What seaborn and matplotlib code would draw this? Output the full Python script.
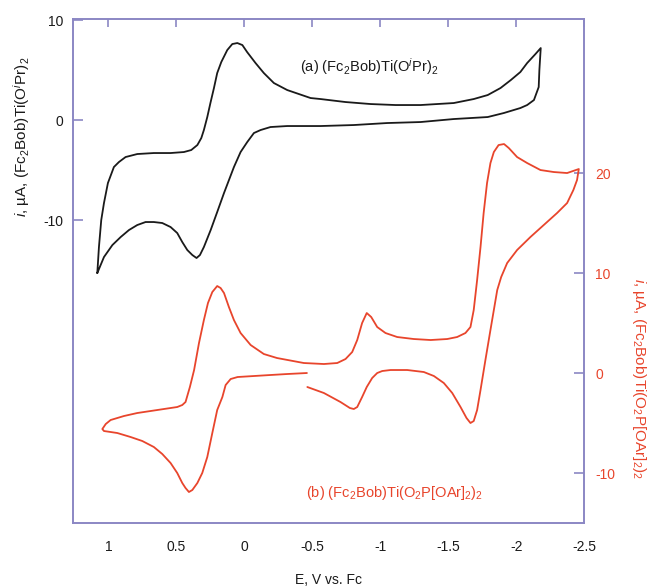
import pandas as pd
import seaborn as sns
import matplotlib.pyplot as plt

# (a) (Fc2Bob)Ti(OiPr)2 - left axis, closed loop
volt_a = [1.082, 1.070, 1.053, 1.033, 1.004, 0.96, 0.923, 0.874, 0.788, 0.666,
          0.543, 0.445, 0.391, 0.346, 0.317, 0.298, 0.273, 0.25, 0.224, 0.2,
          0.17, 0.126, 0.089, 0.052, 0.015, -0.02, -0.082, -0.143, -0.217,
          -0.315, -0.487, -0.56, -0.744, -0.928, -1.112, -1.296, -1.54, -1.687,
          -1.79, -1.884, -1.96, -2.03, -2.08, -2.141, -2.18,
          -2.17, -2.165, -2.13, -2.08, -2.03, -1.908, -1.79, -1.54, -1.296,
          -1.05, -0.805, -0.56, -0.315, -0.192, -0.119, -0.07, -0.021, 0.028,
          0.077, 0.15, 0.2, 0.248, 0.298, 0.327, 0.352, 0.383, 0.42, 0.457,
          0.494, 0.543, 0.604, 0.666, 0.727, 0.788, 0.849, 0.91, 0.971, 1.033,
          1.082]
curr_a = [-15.3, -12.7, -10.0, -8.3, -6.3, -4.7, -4.2, -3.7, -3.4, -3.3,
          -3.3, -3.2, -3.0, -2.5, -1.8, -1.0, 0.3, 1.7, 3.2, 4.7,
          5.8, 7.0, 7.6, 7.7, 7.5, 6.8, 5.7, 4.7, 3.7,
          3.0, 2.2, 2.1, 1.8, 1.6, 1.5, 1.5, 1.7, 2.1,
          2.5, 3.2, 4.0, 4.8, 5.7, 6.6, 7.2,
          5.0, 3.3, 2.0, 1.5, 1.2, 0.7, 0.3, 0.1, -0.2,
          -0.3, -0.5, -0.6, -0.6, -0.7, -1.0, -1.3, -2.2, -3.2,
          -4.7, -7.3, -9.2, -11.0, -12.7, -13.5, -13.8, -13.5, -13.0, -12.2,
          -11.3, -10.7, -10.3, -10.2, -10.2, -10.5, -11.0, -11.7, -12.5, -13.7,
          -15.3]

# (b) (Fc2Bob)Ti(O2P[OAr]2)2 - right axis, open scan
volt_b = [-0.46, -0.315, -0.19, -0.07, 0.05, 0.101, 0.138, 0.162, 0.2, 0.236,
          0.273, 0.31, 0.346, 0.383, 0.408, 0.433, 0.457, 0.494, 0.543, 0.604,
          0.666, 0.751, 0.837, 0.935, 1.033, 1.045,
          1.02, 0.984, 0.886, 0.788, 0.641, 0.494, 0.457, 0.433, 0.401, 0.37,
          0.334, 0.298, 0.268, 0.236, 0.2, 0.175, 0.15, 0.114, 0.077, 0.028,
          -0.046, -0.143, -0.24, -0.437, -0.585, -0.683, -0.744, -0.793, -0.83,
          -0.866, -0.9, -0.933, -0.977, -1.038, -1.124, -1.246, -1.37, -1.492,
          -1.565, -1.626, -1.663, -1.687, -1.712, -1.737, -1.76, -1.785, -1.81,
          -1.835, -1.87, -1.91, -1.945, -2.006, -2.08, -2.178, -2.276, -2.374,
          -2.46,
          -2.447, -2.42, -2.374, -2.30, -2.202, -2.104, -2.006, -1.933, -1.889,
          -1.86, -1.835, -1.81, -1.773, -1.737, -1.712, -1.687, -1.663, -1.634,
          -1.59, -1.529, -1.467, -1.394, -1.32, -1.198, -1.075, -1.014, -0.977,
          -0.94, -0.9, -0.866, -0.83, -0.805, -0.776, -0.707, -0.585, -0.463]
curr_b = [0.0, -0.1, -0.2, -0.3, -0.4, -0.6, -1.2, -2.4, -3.7, -6.0,
          -8.4, -10.0, -11.0, -11.7, -11.9, -11.5, -11.0, -10.0, -9.0, -8.1,
          -7.4, -6.8, -6.4, -6.0, -5.8, -5.6,
          -5.1, -4.7, -4.3, -4.0, -3.7, -3.4, -3.2, -2.9, -1.4, 0.3,
          3.0, 5.3, 7.0, 8.1, 8.7, 8.5, 8.0, 6.6, 5.3, 4.0,
          2.8, 1.9, 1.5, 1.0, 0.9, 1.0, 1.4, 2.1, 3.3,
          5.0, 6.0, 5.6, 4.6, 4.0, 3.6, 3.4, 3.3, 3.4,
          3.6, 4.0, 4.6, 6.3, 9.3, 12.6, 16.0, 19.0, 21.0,
          22.1, 22.8, 22.9, 22.5, 21.6, 21.0, 20.3, 20.1, 20.0,
          20.4,
          19.3, 18.3, 17.0, 16.0, 14.8, 13.6, 12.3, 11.0, 9.6,
          8.3, 6.3, 4.3, 1.3, -1.7, -3.7, -4.8, -5.0, -4.5,
          -3.4, -2.0, -1.0, -0.3, 0.1, 0.3, 0.3, 0.2, 0.0,
          -0.5, -1.4, -2.4, -3.4, -3.6, -3.5, -2.9, -2.0, -1.4]

x_ticks = [1, 0.5, 0, -0.5, -1, -1.5, -2, -2.5]
x_labels = ['1', '0.5', '0', '-0.5', '-1', '-1.5', '-2', '-2.5']
left_ticks = [10, 0, -10]
right_ticks = [20, 10, 0, -10]

df_a = pd.DataFrame({'E': volt_a, 'i': curr_a})
df_b = pd.DataFrame({'E': volt_b, 'i': curr_b})

sns.set_style('white')
plt.rcParams['font.family'] = ['Liberation Sans', 'DejaVu Sans']
plt.rcParams['axes.unicode_minus'] = False
plt.rcParams['mathtext.fontset'] = 'custom'
plt.rcParams['mathtext.rm'] = 'Liberation Sans'
plt.rcParams['mathtext.it'] = 'Liberation Sans:italic'

frame = '#8b87c4'
red = '#e8452c'
black = '#1a1a1a'

fig = plt.figure(figsize=(6.47, 5.86), dpi=100)
ax = fig.add_axes([0.113, 0.1075, 0.790, 0.860])
ax2 = ax.twinx()

sns.lineplot(data=df_a, x='E', y='i', sort=False, estimator=None,
             color=black, lw=1.3, solid_joinstyle='round', ax=ax)
sns.lineplot(data=df_b, x='E', y='i', sort=False, estimator=None,
             color=red, lw=1.3, solid_joinstyle='round', ax=ax2)

ax.set_xlim(1.26, -2.5)
ax.set_ylim(-40.3, 10.1)
ax2.set_ylim(-15, 35.4)

ax.set_xticks(x_ticks)
ax.set_xticklabels(x_labels)
ax.set_yticks(left_ticks)
ax2.set_yticks(right_ticks)

ax.tick_params(axis='x', direction='in', top=True, length=6, width=1.2,
               color=frame, pad=12, labelsize=10, labelcolor=black)
ax.tick_params(axis='y', direction='in', length=7, width=1.2, color=frame,
               pad=7, labelsize=10, labelcolor=black)
ax2.tick_params(axis='y', direction='in', length=7, width=1.2, color=frame,
                pad=8, labelsize=10, labelcolor=red)

for a in (ax, ax2):
    for s in a.spines.values():
        s.set_color(frame)
        s.set_linewidth(1.2)

ax.set_xlabel('E, V vs. Fc', fontsize=10, color=black, labelpad=14)
ax.set_ylabel('')
ax2.set_ylabel('')

fig.text(22 / 647, 1 - 137 / 586, '$i$, \u00b5A, (Fc$_2$Bob)Ti(O$^i$Pr)$_2$',
         rotation=90, ha='center', va='center', fontsize=11, color=black)
fig.text(639 / 647, 1 - 378 / 586,
         '$i$, \u00b5A, (Fc$_2$Bob)Ti(O$_2$P[OAr]$_2$)$_2$',
         rotation=-90, ha='center', va='center', fontsize=11, color=red)

ax.text(-0.41, 5.3, '(a) (Fc$_2$Bob)Ti(O$^i$Pr)$_2$', ha='left', va='center',
        fontsize=10.5, color=black)
ax2.text(-0.45, -12.0, '(b) (Fc$_2$Bob)Ti(O$_2$P[OAr]$_2$)$_2$', ha='left',
         va='center', fontsize=10.5, color=red)

fig.savefig('out.png', dpi=100)
